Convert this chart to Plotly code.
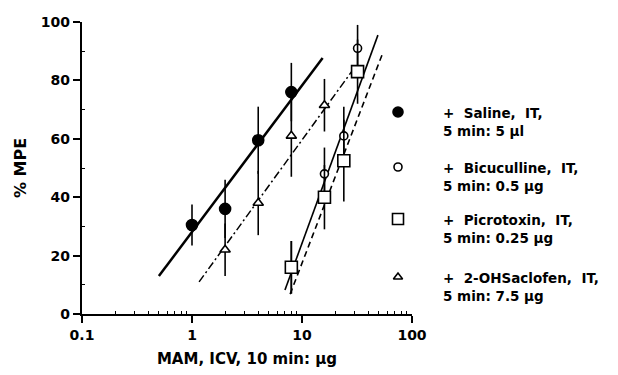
import plotly.graph_objects as go

# ---- data ----
saline_x = [1, 2, 4, 8]
saline_y = [30.5, 36, 59.5, 76]
saline_err = [7, 10, 11.5, 10]

bicuc_x = [8, 16, 24, 32]
bicuc_y = [16, 48, 61, 91]
bicuc_err = [9, 9, 10, 8]

picro_x = [8, 16, 24, 32]
picro_y = [16, 40, 52.5, 83]
picro_err = [9, 11, 14, 11]

saclo_x = [2, 4, 8, 16]
saclo_y = [22, 38, 61, 71.5]
saclo_err = [9, 11, 14, 9]

saline_fit_x = [0.5, 15.4]
saline_fit_y = [13, 87.7]
saclo_fit_x = [1.16, 29]
saclo_fit_y = [11, 83.6]
bicuc_fit_x = [7.0, 49]
bicuc_fit_y = [8.2, 95.5]
picro_fit_x = [7.8, 54.5]
picro_fit_y = [6.8, 89.6]

legend_labels = [
    "+  Saline,  IT,<br>5 min: 5 μl",
    "+  Bicuculline,  IT,<br>5 min: 0.5 μg",
    "+  Picrotoxin,  IT,<br>5 min: 0.25 μg",
    "+  2-OHSaclofen,  IT,<br>5 min: 7.5 μg",
]
x_ticks = [0.1, 1, 10, 100]
x_tick_text = ["0.1", "1", "10", "100"]
y_ticks = [0, 20, 40, 60, 80, 100]

FONT = "DejaVu Sans, Liberation Sans, Arial, sans-serif"
BLACK = "black"

fig = go.Figure()

# fit lines
fig.add_trace(go.Scatter(x=saline_fit_x, y=saline_fit_y, mode="lines",
                         line=dict(color=BLACK, width=2.5), showlegend=False))
fig.add_trace(go.Scatter(x=saclo_fit_x, y=saclo_fit_y, mode="lines",
                         line=dict(color=BLACK, width=1.5, dash="8px,3px,2px,3px"), showlegend=False))
fig.add_trace(go.Scatter(x=bicuc_fit_x, y=bicuc_fit_y, mode="lines",
                         line=dict(color=BLACK, width=1.6), showlegend=False))
fig.add_trace(go.Scatter(x=picro_fit_x, y=picro_fit_y, mode="lines",
                         line=dict(color=BLACK, width=1.6, dash="6px,4px"), showlegend=False))

def pts(x, y, err, symbol, size, filled):
    return go.Scatter(
        x=x, y=y, mode="markers",
        error_y=dict(type="data", array=err, visible=True, color=BLACK, thickness=1.6, width=0),
        marker=dict(symbol=symbol, size=size,
                    color=BLACK if filled else "white",
                    line=dict(color=BLACK, width=1.6)),
        showlegend=False)

fig.add_trace(pts(saline_x, saline_y, saline_err, "circle", 11, True))
fig.add_trace(pts(saclo_x, saclo_y, saclo_err, "triangle-up", 9, False))
fig.add_trace(pts(bicuc_x, bicuc_y, bicuc_err, "circle", 8, False))
fig.add_trace(pts(picro_x, picro_y, picro_err, "square", 12, False))

# legend markers in pixel-space overlay axes
leg_x = [398, 398, 398, 398]
leg_y = [112, 167, 219, 277]
leg_sym = ["circle", "circle", "square", "triangle-up"]
leg_fill = [BLACK, "white", "white", "white"]
leg_size = [10, 8, 11, 8]
for lx, ly, ls, lf, lz in zip(leg_x, leg_y, leg_sym, leg_fill, leg_size):
    fig.add_trace(go.Scatter(x=[lx], y=[ly], mode="markers", xaxis="x2", yaxis="y2",
                             marker=dict(symbol=ls, size=lz, color=lf,
                                         line=dict(color=BLACK, width=1.6)),
                             showlegend=False))

annotations = []
for lab, yy in zip(legend_labels, leg_y):
    annotations.append(dict(text=lab, x=441, y=yy - 9, xref="x2", yref="y2",
                            xanchor="left", yanchor="top", align="left", showarrow=False,
                            font=dict(family=FONT, size=13.5, color=BLACK, weight="bold")))

W, H = 618, 375
fig.update_layout(
    width=W, height=H,
    margin=dict(l=0, r=0, t=0, b=0),
    paper_bgcolor="white", plot_bgcolor="rgba(0,0,0,0)",
    showlegend=False,
    font=dict(family=FONT, size=13, color=BLACK, weight="bold"),
    annotations=annotations,
    xaxis=dict(type="log", range=[-1, 2], domain=[82 / W, 412 / W],
               tickvals=x_ticks, ticktext=x_tick_text,
               ticks="outside", ticklen=7, tickwidth=2, tickcolor=BLACK,
               showline=True, linecolor=BLACK, linewidth=2.2, showgrid=False, zeroline=False,
               tickfont=dict(family=FONT, size=14, color=BLACK, weight="bold"),
               minor=dict(ticks="inside", ticklen=3, tickwidth=1.2, tickcolor=BLACK,
                          tickvals=[0.2, 0.3, 0.4, 0.5, 0.6, 0.7, 0.8, 0.9,
                                    2, 3, 4, 5, 6, 7, 8, 9,
                                    20, 30, 40, 50, 60, 70, 80, 90], showgrid=False),
               title=dict(text="MAM, ICV, 10 min: μg", standoff=12,
                          font=dict(family=FONT, size=15, color=BLACK, weight="bold")),
               automargin=False, anchor="y"),
    yaxis=dict(range=[0, 100], domain=[(H - 314) / H, (H - 22) / H],
               tickvals=y_ticks,
               ticks="outside", ticklen=7, tickwidth=2, tickcolor=BLACK,
               showline=True, linecolor=BLACK, linewidth=2.2, showgrid=False, zeroline=False,
               tickfont=dict(family=FONT, size=14, color=BLACK, weight="bold"),
               minor=dict(ticks="inside", ticklen=3, tickwidth=1.2, tickcolor=BLACK,
                          tickvals=[10, 30, 50, 70, 90], showgrid=False),
               title=dict(text="% MPE", standoff=10,
                          font=dict(family=FONT, size=16, color=BLACK, weight="bold")),
               automargin=False, anchor="x"),
    xaxis2=dict(domain=[0, 1], range=[0, W], visible=False, anchor="y2", fixedrange=True),
    yaxis2=dict(domain=[0, 1], range=[H, 0], visible=False, anchor="x2", fixedrange=True),
)

fig.write_html("out.html", config={"displayModeBar": False},
               post_script="document.body.style.margin='0';document.body.style.padding='0';")
